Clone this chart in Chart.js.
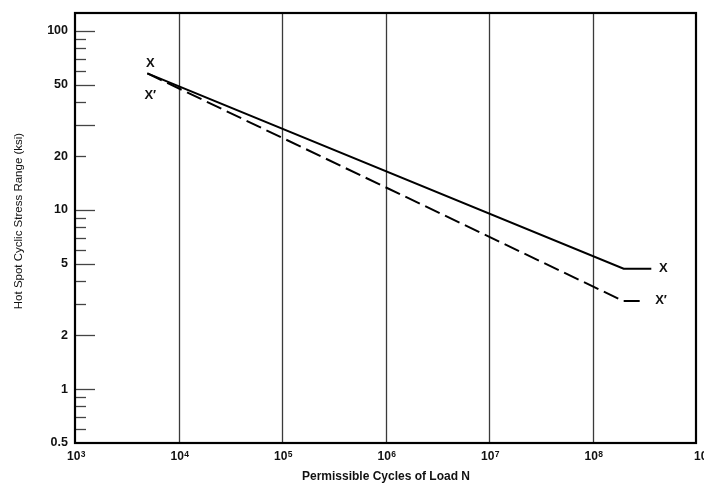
<!DOCTYPE html>
<html>
<head>
<meta charset="utf-8">
<script src="https://cdn.jsdelivr.net/npm/chart.js@4"></script>
<style>
  html, body { margin: 0; padding: 0; background: #fff; }
  #wrap { width: 704px; height: 483px; }
</style>
</head>
<body>
<div id="wrap"><canvas id="snCurve" width="704" height="483"></canvas></div>
<script>
// S-N curve readings (cycles N, stress range ksi)
const xCurveN = [5000, 2e8, 3.7e8];
const xCurveS = [58, 4.7, 4.7];
const xPrimeN = [5000, 2e8, 3.15e8];
const xPrimeS = [58, 3.1, 3.1];

// axis ticks
const xTickValues = [1e3, 1e4, 1e5, 1e6, 1e7, 1e8, 1e9];
const xTickExponents = ['3', '4', '5', '6', '7', '8', '9'];
const yTickValues = [100, 50, 20, 10, 5, 2, 1, 0.5];
const yTickLabels = ['100', '50', '20', '10', '5', '2', '1', '0.5'];
const yMajorMarks = [100, 50, 30, 10, 5, 2, 1];
const yMinorMarks = [90, 80, 70, 60, 40, 20, 9, 8, 7, 6, 4, 3, 0.9, 0.8, 0.7, 0.6];

const FONT = '"Liberation Sans", Arial, Helvetica, sans-serif';

function toPoints(xs, ys) {
    return xs.map((x, i) => ({ x: x, y: ys[i] }));
}

// draws grid, frame, ticks and all labels from the chart's scales
const frameAndLabels = {
    id: 'frameAndLabels',
    beforeDatasetsDraw(chart) {
        const ctx = chart.ctx;
        const area = chart.chartArea;
        const xs = chart.scales.x;
        ctx.save();
        ctx.strokeStyle = '#3a3a3a';
        ctx.lineWidth = 1.3;
        xTickValues.slice(1, -1).forEach(v => {
            const px = Math.round(xs.getPixelForValue(v)) + 0.5;
            ctx.beginPath();
            ctx.moveTo(px, area.top);
            ctx.lineTo(px, area.bottom);
            ctx.stroke();
        });
        ctx.restore();
    },
    afterDraw(chart) {
        const ctx = chart.ctx;
        const area = chart.chartArea;
        const xs = chart.scales.x;
        const ys = chart.scales.y;
        ctx.save();

        // inner tick marks on the y axis
        ctx.strokeStyle = '#444';
        ctx.lineWidth = 1.3;
        yMajorMarks.forEach(v => {
            const py = Math.round(ys.getPixelForValue(v)) + 0.5;
            ctx.beginPath(); ctx.moveTo(area.left, py); ctx.lineTo(area.left + 20, py); ctx.stroke();
        });
        yMinorMarks.forEach(v => {
            const py = Math.round(ys.getPixelForValue(v)) + 0.5;
            ctx.beginPath(); ctx.moveTo(area.left, py); ctx.lineTo(area.left + 11, py); ctx.stroke();
        });

        // frame
        ctx.strokeStyle = '#000';
        ctx.lineWidth = 2.2;
        ctx.strokeRect(area.left, area.top, area.right - area.left, area.bottom - area.top);

        // tick labels
        ctx.fillStyle = '#111';
        ctx.font = 'bold 12.5px ' + FONT;
        ctx.textAlign = 'right';
        ctx.textBaseline = 'middle';
        yTickValues.forEach((v, i) => {
            ctx.fillText(yTickLabels[i], area.left - 7, ys.getPixelForValue(v));
        });
        ctx.textAlign = 'left';
        ctx.textBaseline = 'alphabetic';
        xTickValues.forEach((v, i) => {
            const px = xs.getPixelForValue(v);
            const left = i === xTickValues.length - 1 ? px - 2 : px - 8;
            const base = area.bottom + 17;
            ctx.font = 'bold 12px ' + FONT;
            ctx.fillText('10', left, base);
            const w = ctx.measureText('10').width;
            ctx.font = 'bold 8.5px ' + FONT;
            ctx.fillText(xTickExponents[i], left + w + 0.5, base - 3.5);
        });

        // axis titles
        ctx.textAlign = 'center';
        ctx.font = 'bold 12px ' + FONT;
        ctx.fillText('Permissible Cycles of Load N', 386, area.bottom + 37);
        ctx.font = '11.5px ' + FONT;
        ctx.textBaseline = 'middle';
        ctx.save();
        ctx.translate(19, 221);
        ctx.rotate(-Math.PI / 2);
        ctx.fillText('Hot Spot Cyclic Stress Range (ksi)', 0, 0);
        ctx.restore();

        // curve labels
        ctx.font = 'bold 13px ' + FONT;
        const sx = xs.getPixelForValue(xCurveN[0]);
        const sy = ys.getPixelForValue(xCurveS[0]);
        ctx.fillText('X', sx + 3, sy - 10);
        ctx.fillText('X′', sx + 3, sy + 22);
        const ex = xs.getPixelForValue(xCurveN[xCurveN.length - 1]);
        const ey = ys.getPixelForValue(xCurveS[xCurveS.length - 1]);
        ctx.fillText('X', ex + 12, ey);
        const fx = xs.getPixelForValue(xPrimeN[xPrimeN.length - 1]);
        const fy = ys.getPixelForValue(xPrimeS[xPrimeS.length - 1]);
        ctx.fillText('X′', fx + 17, fy - 1);
        ctx.restore();
    }
};

new Chart(document.getElementById('snCurve'), {
    type: 'line',
    data: {
        datasets: [
            {
                label: 'X',
                data: toPoints(xCurveN, xCurveS),
                borderColor: '#000',
                borderWidth: 2,
                pointRadius: 0,
                tension: 0
            },
            {
                label: "X'",
                data: toPoints(xPrimeN, xPrimeS),
                borderColor: '#000',
                borderWidth: 2,
                borderDash: [16, 6],
                pointRadius: 0,
                tension: 0
            }
        ]
    },
    options: {
        responsive: false,
        animation: false,
        layout: { padding: { left: 75, right: 8, top: 13, bottom: 40 } },
        plugins: { legend: { display: false }, tooltip: { enabled: false } },
        scales: {
            x: { type: 'logarithmic', min: 1e3, max: 1e9, display: false },
            y: { type: 'logarithmic', min: 0.5, max: 126, display: false }
        }
    },
    plugins: [frameAndLabels]
});
</script>
</body>
</html>
